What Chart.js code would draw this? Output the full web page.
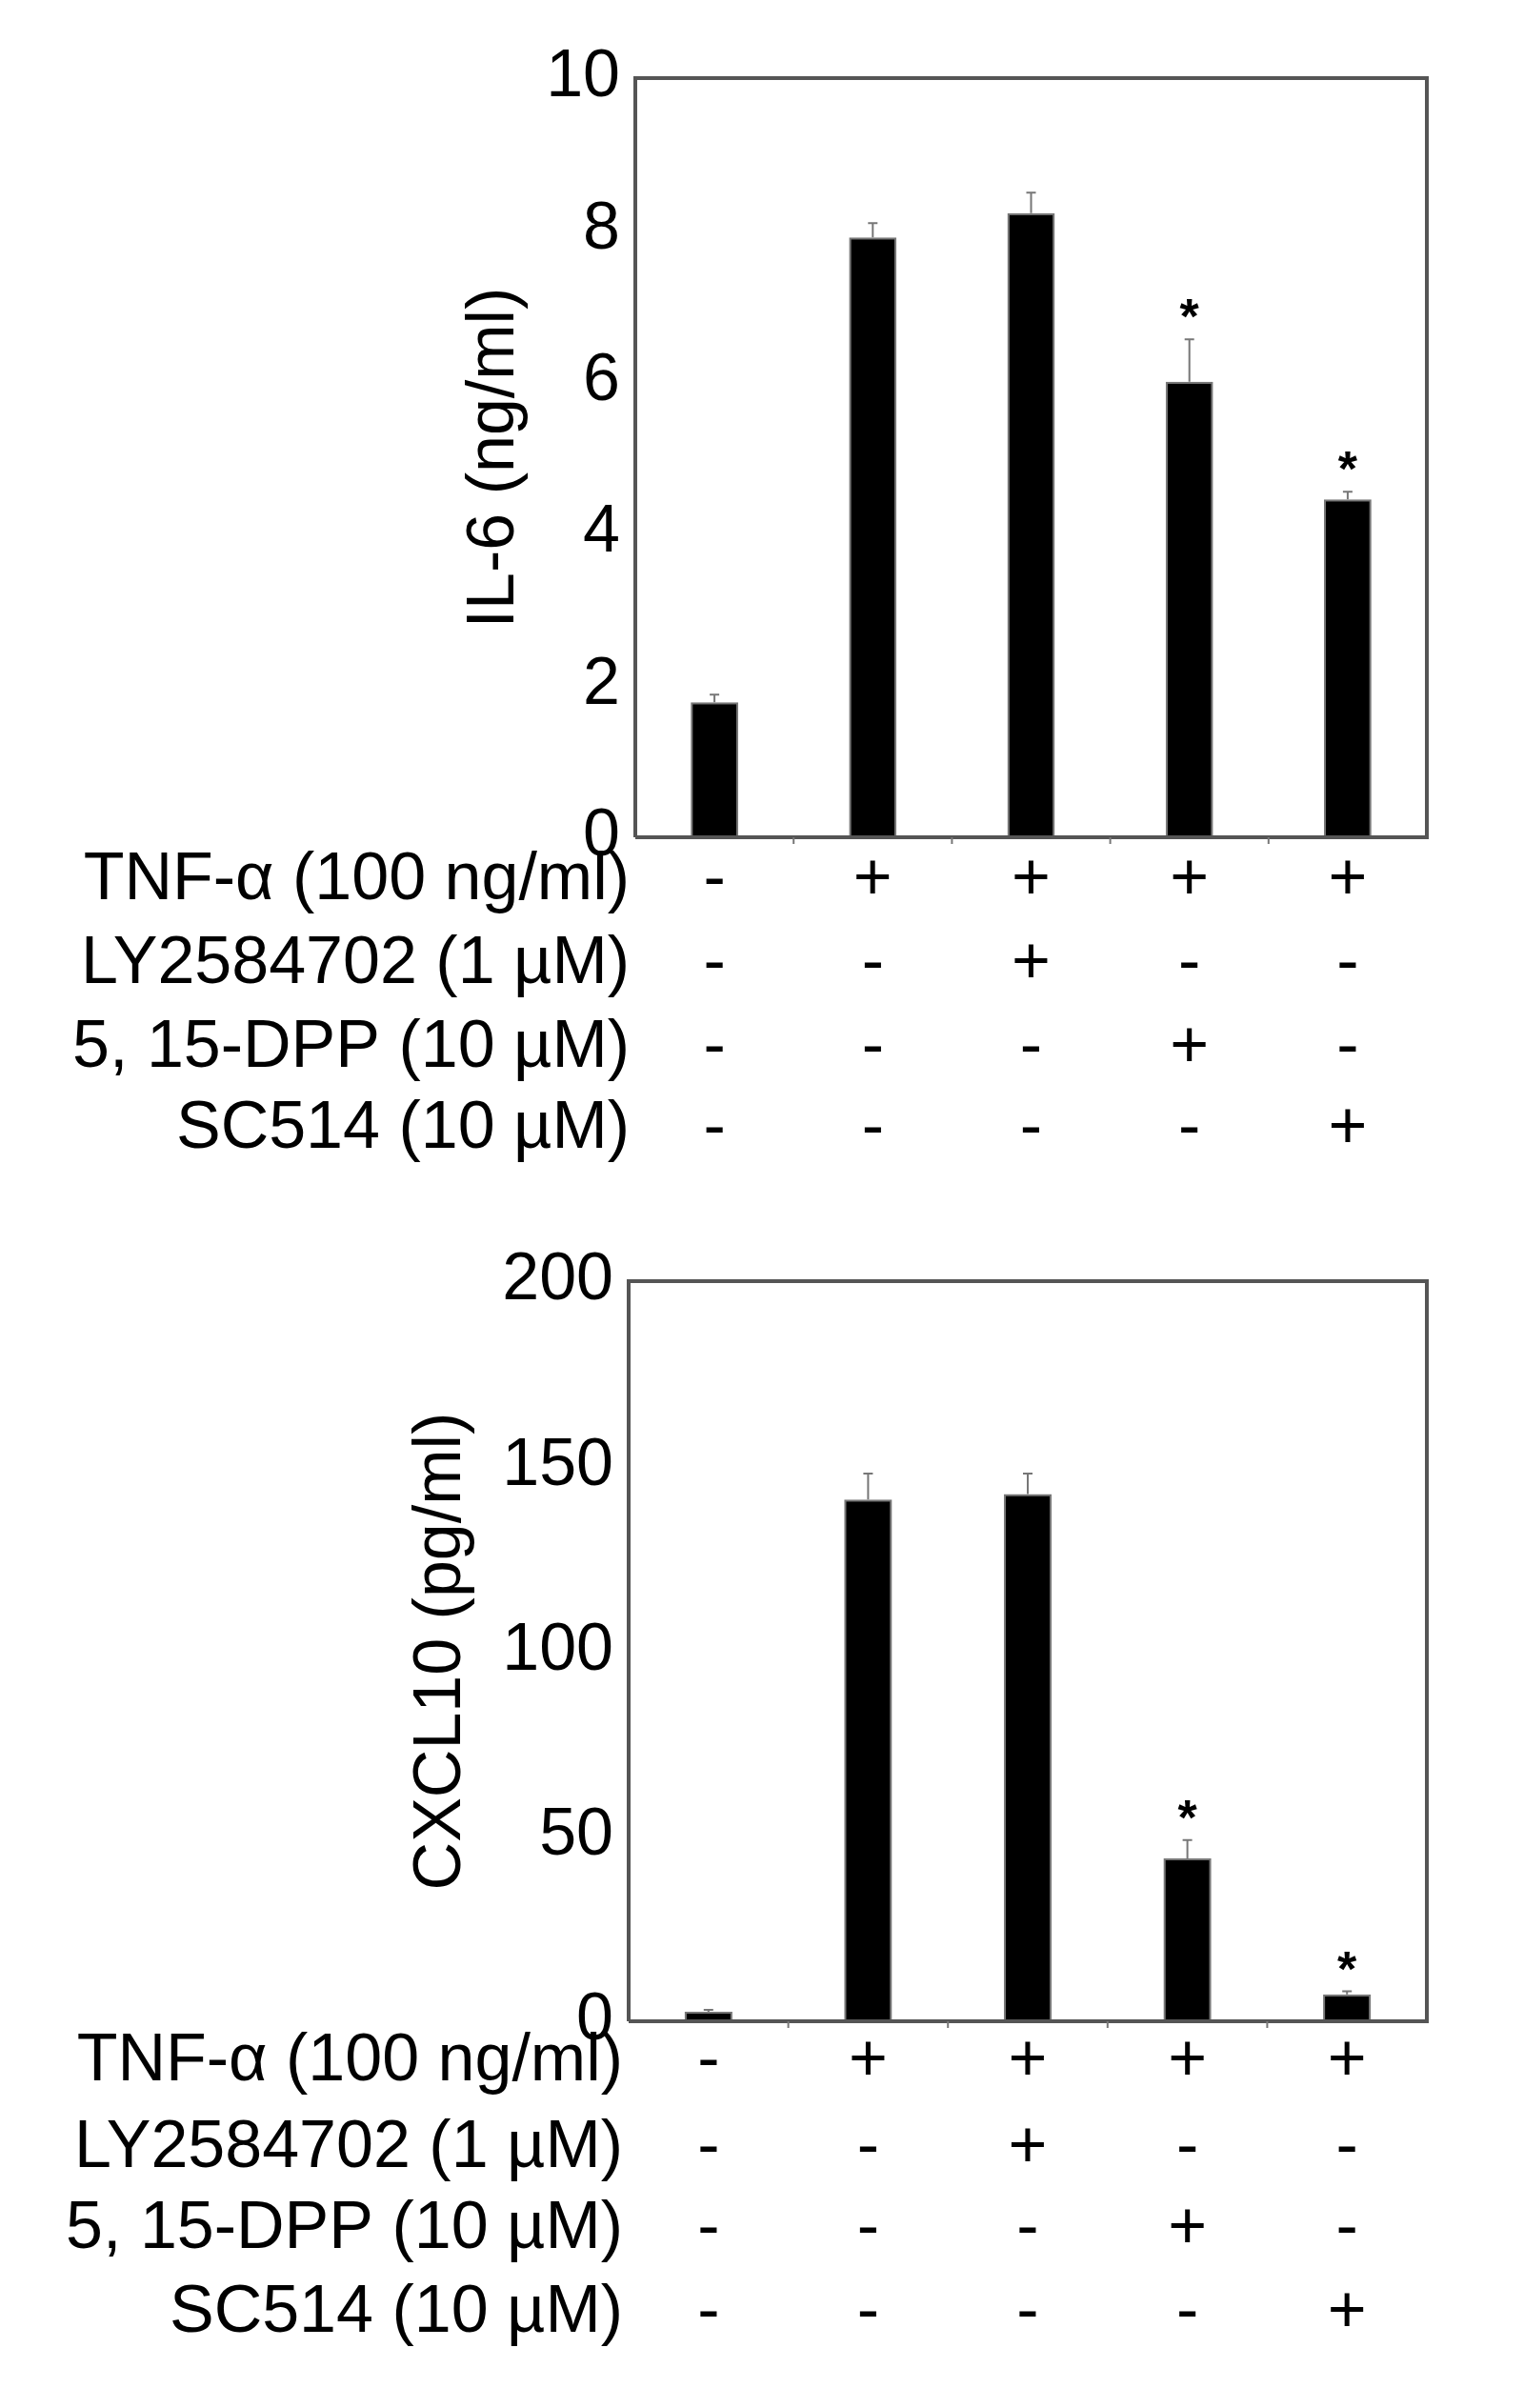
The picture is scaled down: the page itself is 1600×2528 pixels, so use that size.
<!DOCTYPE html>
<html><head><meta charset="utf-8">
<script src="https://cdn.jsdelivr.net/npm/chart.js@4"></script>
<style>body{margin:0;background:#fff;width:1600px;height:2528px;position:relative;overflow:hidden}
.w{position:absolute;left:0;width:1600px}</style></head>
<body>
<div class="w" style="top:0;height:1260px"><canvas id="c1"></canvas></div>
<div class="w" style="top:1280px;height:1248px"><canvas id="c2"></canvas></div>
<script>
const categories = ["1","2","3","4","5"];
const il6Values = [1.78, 7.9, 8.22, 6.0, 4.45];
const il6Errors = [0.1, 0.19, 0.27, 0.56, 0.1];
const il6Stars = [false, false, false, true, true];
const cxclValues = [2.6, 141, 142.5, 44, 7.3];
const cxclErrors = [0.5, 7, 5.5, 5, 0.8];
const cxclStars = [false, false, false, true, true];
const rowLabels = ["TNF-\u03b1 (100 ng/ml)", "LY2584702 (1 \u00b5M)", "5, 15-DPP (10 \u00b5M)", "SC514 (10 \u00b5M)"];
const rowSigns = [["-","+","+","+","+"],["-","-","+","-","-"],["-","-","-","+","-"],["-","-","-","-","+"]];
const FONT = "Arial, 'Liberation Sans', sans-serif";

function make(id, values, errors, stars, yMax, yStep, yTitle, titleX, leftW, padTop, bottomH, rowYs){
  const extras = {
    id:'extras',
    afterDatasetsDraw(chart){
      const ctx = chart.ctx, xs = chart.scales.x, ys = chart.scales.y, a = chart.chartArea;
      ctx.save();
      ctx.strokeStyle = '#777'; ctx.lineWidth = 2;
      values.forEach((v,i)=>{
        const x = xs.getPixelForValue(i), y0 = ys.getPixelForValue(v), y1 = ys.getPixelForValue(v+errors[i]);
        ctx.beginPath(); ctx.moveTo(x,y0); ctx.lineTo(x,y1); ctx.moveTo(x-5,y1); ctx.lineTo(x+5,y1); ctx.stroke();
        if (stars[i]) {
          ctx.fillStyle='#000'; ctx.font = 'bold 52px '+FONT; ctx.textAlign='center'; ctx.textBaseline='alphabetic';
          ctx.fillText('*', x, y1 - 6);
        }
      });
      ctx.strokeStyle = '#555'; ctx.lineWidth = 4;
      ctx.beginPath(); ctx.moveTo(a.left,a.bottom); ctx.lineTo(a.left,a.top); ctx.lineTo(a.right,a.top); ctx.lineTo(a.right,a.bottom); ctx.lineTo(a.left,a.bottom); ctx.stroke();
      ctx.lineWidth = 2; ctx.strokeStyle='#777';
      const step = xs.getPixelForValue(1)-xs.getPixelForValue(0);
      for (let i=0;i<values.length;i++){ const x = xs.getPixelForValue(i)+step/2;
        if (x < a.right-5){ ctx.beginPath(); ctx.moveTo(x,a.bottom); ctx.lineTo(x,a.bottom+7); ctx.stroke(); } }
      ctx.fillStyle = '#000'; ctx.font = '70px '+FONT; ctx.textBaseline = 'middle';
      rowLabels.forEach((lab,r)=>{
        ctx.textAlign='right'; ctx.fillText(lab, a.left-6, rowYs[r]);
        ctx.textAlign='center';
        rowSigns[r].forEach((s,i)=>{ ctx.fillText(s, xs.getPixelForValue(i), rowYs[r]); });
      });
      ctx.save();
      ctx.translate(titleX, (a.top+a.bottom)/2); ctx.rotate(-Math.PI/2);
      ctx.textAlign='center'; ctx.textBaseline='middle'; ctx.fillText(yTitle, 0, 0);
      ctx.restore();
      ctx.restore();
    }
  };
  return new Chart(document.getElementById(id), {
    type:'bar',
    data:{labels:categories, datasets:[{data:values, backgroundColor:'#000', borderColor:'#777', borderWidth:2, categoryPercentage:1, barPercentage:0.3}]},
    options:{
      responsive:true, maintainAspectRatio:false, animation:false, devicePixelRatio:1,
      layout:{padding:{top:padTop, right:102, left:0, bottom:0}},
      plugins:{legend:{display:false}, tooltip:{enabled:false}},
      scales:{
        x:{grid:{display:false, drawTicks:false}, border:{display:false}, ticks:{display:false},
           afterFit(s){ s.height = bottomH; }},
        y:{min:0, max:yMax, grid:{display:false, drawTicks:true, tickLength:8, tickColor:'#777'}, border:{display:false},
           ticks:{stepSize:yStep, color:'#000', font:{size:70, family:FONT}, padding:8},
           afterFit(s){ s.width = leftW; }}
      }
    },
    plugins:[extras]
  });
}
make('c1', il6Values, il6Errors, il6Stars, 10, 2, 'IL-6 (ng/ml)', 520, 667, 82, 381, [925,1013,1101,1186]);
make('c2', cxclValues, cxclErrors, cxclStars, 200, 50, 'CXCL10 (pg/ml)', 464, 660, 65, 406, [885,976,1061,1149]);
</script>
</body></html>
